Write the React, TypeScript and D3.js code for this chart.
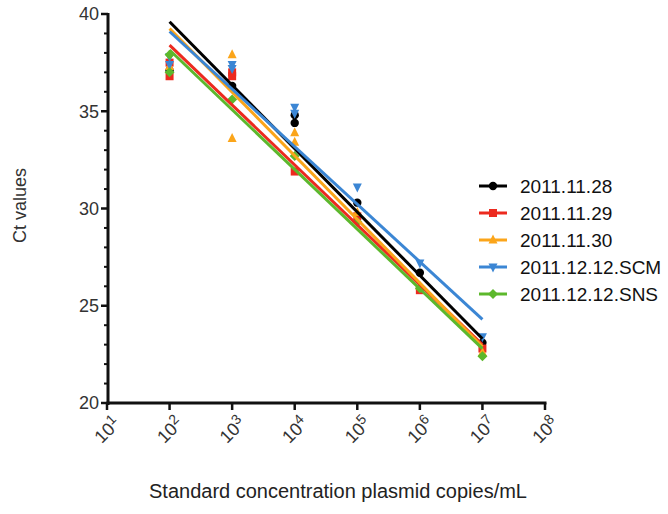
import React from "react";
import * as d3 from "d3";

// Plasmid standard concentrations (copies/mL)
const concentrations = [1e2, 1e3, 1e4, 1e5, 1e6, 1e7];

const seriesNames = ["2011.11.28", "2011.11.29", "2011.11.30", "2011.12.12.SCM", "2011.12.12.SNS"];
const seriesColors = ["#000000", "#ec2a1f", "#fba51a", "#3b86d4", "#5cb82c"];
const seriesShapes = ["circle", "square", "triangleUp", "triangleDown", "diamond"];

// Ct replicates per concentration, one array per run
const ct_20111128 = [[37.1], [36.3], [34.8, 34.4], [30.3], [26.7], [23.1]];
const ct_20111129 = [[37.5, 36.8], [37.0, 36.8], [31.9], [29.6], [25.8], [22.8]];
const ct_20111130 = [[37.3], [37.9, 33.6], [33.9, 33.4], [29.8], [26.0], [22.6]];
const ct_20111212SCM = [[37.8, 37.4], [37.4, 37.2], [35.2, 34.9], [31.1], [27.2], [23.4]];
const ct_20111212SNS = [[37.9, 37.0], [35.6], [32.7], [29.3], [25.9], [22.4]];
const seriesCt = [ct_20111128, ct_20111129, ct_20111130, ct_20111212SCM, ct_20111212SNS];

// Standard-curve fit values at 10^2 and 10^7 copies/mL
const fitAtLow = [39.6, 38.4, 39.25, 39.1, 38.15];
const fitAtHigh = [23.3, 23.0, 22.9, 24.3, 22.8];

const yTicks = [20, 25, 30, 35, 40];
const xTickExponents = [1, 2, 3, 4, 5, 6, 7, 8];

const FONT = "'Liberation Sans', Arial, Helvetica, sans-serif";

function marker(shape: string, cx: number, cy: number, color: string, key: string) {
  const s = 4.5;
  switch (shape) {
    case "circle":
      return <circle key={key} cx={cx} cy={cy} r={4.2} fill={color} />;
    case "square":
      return <rect key={key} x={cx - 4} y={cy - 4} width={8} height={8} fill={color} />;
    case "triangleUp":
      return <path key={key} d={`M${cx},${cy - s - 1}L${cx + s},${cy + s - 1}L${cx - s},${cy + s - 1}Z`} fill={color} />;
    case "triangleDown":
      return <path key={key} d={`M${cx},${cy + s + 1}L${cx + s},${cy - s + 1}L${cx - s},${cy - s + 1}Z`} fill={color} />;
    default:
      return <path key={key} d={`M${cx},${cy - 5}L${cx + 5},${cy}L${cx},${cy + 5}L${cx - 5},${cy}Z`} fill={color} />;
  }
}

export default function App() {
  const width = 668;
  const height = 514;
  const x = d3.scaleLog().domain([1e1, 1e8]).range([107, 545]);
  const y = d3.scaleLinear().domain([20, 40]).range([403, 14]);
  const axisX = 108;
  const axisY = 403;

  const line = d3
    .line<[number, number]>()
    .x((d) => x(d[0]))
    .y((d) => y(d[1]));

  const minorTicks = d3.range(20, 41, 1).filter((v) => v % 5 !== 0);

  return (
    <svg
      width={width}
      height={height}
      style={{ position: "absolute", left: 0, top: 0, background: "#fff" }}
      fontFamily={FONT}
    >
      {/* data points */}
      {seriesCt.map((rows, si) =>
        rows.map((reps, ci) =>
          reps.map((v, ri) =>
            marker(seriesShapes[si], x(concentrations[ci]), y(v), seriesColors[si], `p${si}-${ci}-${ri}`)
          )
        )
      )}

      {/* fitted standard curves */}
      {seriesNames.map((name, si) => (
        <path
          key={name}
          d={line([
            [concentrations[0], fitAtLow[si]],
            [concentrations[concentrations.length - 1], fitAtHigh[si]],
          ]) || ""}
          stroke={seriesColors[si]}
          strokeWidth={3}
          fill="none"
        />
      ))}

      {/* y axis */}
      <line x1={axisX} x2={axisX} y1={y(40) - 1} y2={axisY + 2} stroke="#111" strokeWidth={3} />
      {yTicks.map((t) => (
        <g key={t}>
          <line x1={axisX - 7} x2={axisX} y1={y(t)} y2={y(t)} stroke="#111" strokeWidth={2.5} />
          <text x={axisX - 9} y={y(t)} dy="0.35em" textAnchor="end" fontSize={18} fill="#333">
            {t}
          </text>
        </g>
      ))}
      {minorTicks.map((t) => (
        <line key={t} x1={axisX - 4} x2={axisX} y1={y(t)} y2={y(t)} stroke="#111" strokeWidth={2} />
      ))}
      <text
        transform={`translate(20,${(y(40) + y(20)) / 2 - 3}) rotate(-90)`}
        textAnchor="middle"
        dy="0.35em"
        fontSize={18}
        fill="#333"
      >
        Ct values
      </text>

      {/* x axis */}
      <line x1={axisX - 1.5} x2={x(1e8) + 1.5} y1={axisY} y2={axisY} stroke="#111" strokeWidth={3} />
      {xTickExponents.map((e) => {
        const tx = x(Math.pow(10, e));
        return (
          <g key={e}>
            <line x1={tx} x2={tx} y1={axisY} y2={axisY + 7} stroke="#111" strokeWidth={2.5} />
            <text
              transform={`translate(${tx + 5},${axisY + 12}) rotate(-45)`}
              textAnchor="end"
              dy="0.75em"
              fontSize={18}
              fill="#333"
            >
              10
              <tspan dy="-0.45em" fontSize={14}>
                {e}
              </tspan>
            </text>
          </g>
        );
      })}
      <text x={338} y={498} textAnchor="middle" fontSize={20} fill="#222">
        Standard concentration plasmid copies/mL
      </text>

      {/* legend */}
      {seriesNames.map((name, si) => {
        const ly = 186 + si * 27;
        return (
          <g key={name}>
            <line x1={479} x2={507} y1={ly} y2={ly} stroke={seriesColors[si]} strokeWidth={3} />
            {marker(seriesShapes[si], 493, ly, seriesColors[si], `l${si}`)}
            <text x={520} y={ly} dy="0.36em" fontSize={19} fill="#111">
              {name}
            </text>
          </g>
        );
      })}
    </svg>
  );
}
